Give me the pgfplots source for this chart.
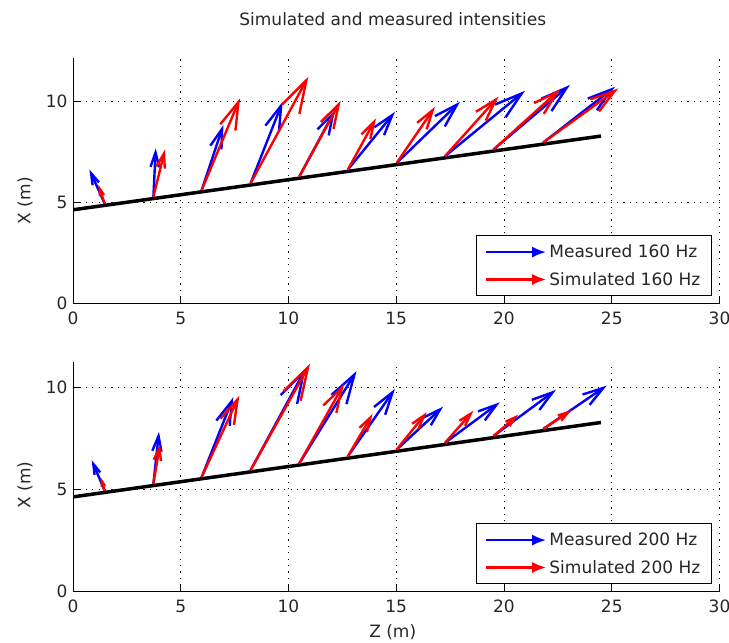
\documentclass[border=0pt]{standalone}
\usepackage{fontspec}
\setmainfont{DejaVu Sans}
\usepackage{pgfplots}
\pgfplotsset{compat=1.18}
\usepackage{pgfplotstable}
\usetikzlibrary{arrows.meta}

% base points on the wall line, z = x, X = y
\pgfplotstableread{
x y u v
1.47 4.95 -0.71 1.70
3.73 5.29 0.11 2.40
5.97 5.62 1.01 3.23
8.24 5.96 1.49 4.04
10.50 6.29 1.66 3.30
12.75 6.63 2.19 2.87
15.02 6.97 2.94 3.03
17.26 7.30 3.71 3.24
19.52 7.64 3.54 3.19
21.82 7.98 3.33 2.76
}\measA
\pgfplotstableread{
x y u v
1.47 4.95 -0.29 0.93
3.73 5.29 0.54 2.35
5.97 5.62 1.78 4.55
8.24 5.96 2.68 5.28
10.50 6.29 1.92 3.76
12.75 6.63 1.31 2.55
15.02 6.97 1.78 2.78
17.26 7.30 2.48 2.95
19.52 7.64 3.08 2.97
21.82 7.98 3.48 2.68
}\simA
\pgfplotstableread{
x y u v
1.47 4.95 -0.60 1.50
3.73 5.29 0.26 2.55
5.97 5.62 1.47 3.92
8.24 5.96 2.56 4.99
10.50 6.29 2.66 4.53
12.75 6.63 2.19 3.32
15.02 6.97 2.16 2.11
17.26 7.30 2.55 1.99
19.52 7.64 2.89 2.26
21.82 7.98 2.95 2.13
}\measB
\pgfplotstableread{
x y u v
1.47 4.95 -0.19 0.67
3.73 5.29 0.31 1.95
5.97 5.62 1.75 4.00
8.24 5.96 2.76 5.22
10.50 6.29 2.08 3.91
12.75 6.63 1.15 2.09
15.02 6.97 1.39 1.83
17.26 7.30 1.32 1.58
19.52 7.64 1.14 1.04
21.82 7.98 1.32 0.93
}\simB

\pgfplotsset{
  mystyle/.style={
    scale only axis, width=646.5pt,
    xmin=0, xmax=30, ymin=0,
    axis x line=bottom, axis y line=left,
    axis line style={-, line width=0.8pt, black},
    tick align=inside, major tick length=7pt,
    tick style={line width=0.8pt, black},
    xtick={0,5,...,30}, ytick={0,5,10},
    grid=major,
    major grid style={black, line width=1pt, dash pattern=on 1.2pt off 5.2pt},
    /pgf/number format/assume math mode=true,
    tick label style={font=\fontsize{17}{20}\selectfont, text=black!85},
    xticklabel style={yshift=-5pt},
    yticklabel style={xshift=-2pt},
    label style={font=\fontsize{17}{20}\selectfont, text=black!85},
    point meta min=0, point meta max=10,
    legend image code/.code={\draw[##1, line width=2.4pt] (0pt,0pt) -- (60pt,0pt);},
    legend style={at={(1,0)}, anchor=south east, xshift=-7.8pt, yshift=7.6pt,
      draw=black, line width=0.8pt, font=\fontsize{17}{20}\selectfont,
      text=black!85, cells={anchor=west}, row sep=9pt, inner xsep=9pt,
      inner ysep=7pt},
  },
  quivstyle/.style={
    line width=2.4pt, forget plot,
    point meta={sqrt((\thisrow{u})^2+(\thisrow{v})^2)},
    quiver={u=\thisrow{u}, v=\thisrow{v},
      every arrow/.append style={
        /utils/exec={\pgfmathsetmacro\hl{2+0.052*\pgfplotspointmetatransformed}%
                     \pgfmathsetmacro\hw{0.6*\hl}},
        -{Straight Barb[length=\hl pt, width=\hw pt]}}},
  },
}

\begin{document}
\begin{tikzpicture}[font=\fontsize{17}{20}\selectfont]
\useasboundingbox (0pt,0pt) rectangle (729pt,-643pt);

\begin{axis}[mystyle, at={(73pt,-303.7pt)}, anchor=south west,
  height=245.4pt, ymax=12.15,
  title={Simulated and measured intensities},
  title style={at={(axis description cs:0.4946,1.137)}, anchor=center,
    font=\fontsize{17}{20}\selectfont, text=black!85},
  ylabel={X (m)},
  ylabel style={at={(axis description cs:-0.0742,0.42)}, anchor=center}]
\addplot[black, line width=3.5pt, forget plot] coordinates {(0,4.65) (24.5,8.3)};
\addplot[blue, quivstyle] table {\measA};
\addplot[red, quivstyle] table {\simA};
\addlegendimage{blue, -{Latex[length=14pt, width=11pt]}}
\addlegendentry{Measured 160 Hz}
\addlegendimage{red, -{Latex[length=14pt, width=11pt]}}
\addlegendentry{Simulated 160 Hz}
\end{axis}

\begin{axis}[mystyle, at={(73pt,-591.7pt)}, anchor=south west,
  height=230pt, ymax=11.28,
  xlabel={Z (m)},
  xlabel style={at={(axis description cs:0.4946,-0.174)}, anchor=center},
  ylabel={X (m)},
  ylabel style={at={(axis description cs:-0.0742,0.464)}, anchor=center}]
\addplot[black, line width=3.5pt, forget plot] coordinates {(0,4.65) (24.5,8.3)};
\addplot[blue, quivstyle] table {\measB};
\addplot[red, quivstyle] table {\simB};
\addlegendimage{blue, -{Latex[length=14pt, width=11pt]}}
\addlegendentry{Measured 200 Hz}
\addlegendimage{red, -{Latex[length=14pt, width=11pt]}}
\addlegendentry{Simulated 200 Hz}
\end{axis}
\end{tikzpicture}
\end{document}
